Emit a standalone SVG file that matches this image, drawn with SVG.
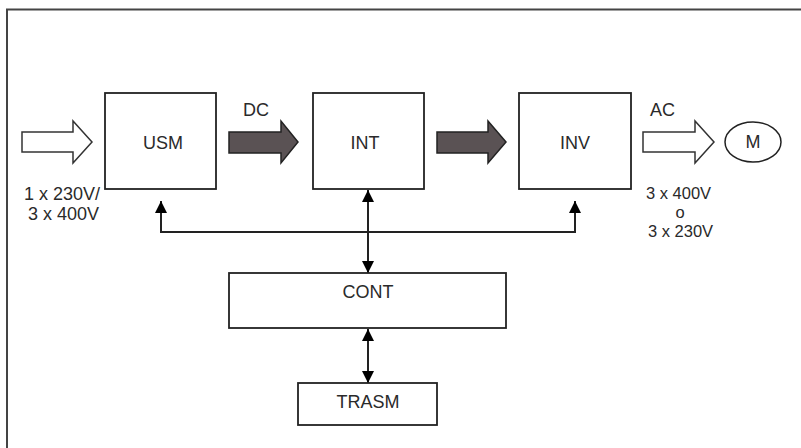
<svg xmlns="http://www.w3.org/2000/svg" width="801" height="448" viewBox="0 0 801 448">
<defs>
<marker id="ah" viewBox="0 0 10 10" refX="10" refY="5" markerWidth="12" markerHeight="12" markerUnits="userSpaceOnUse" orient="auto-start-reverse">
<path d="M0,0 L10,5 L0,10 Z" fill="#000"/>
</marker>
</defs>
<style>
.box{fill:#fff;stroke:#222;stroke-width:1.8}
.t{font-family:"Liberation Sans",Arial,sans-serif;font-size:18px;fill:#2a2a2a}
.s{font-size:16.5px}
.c{text-anchor:middle}
.open{fill:#fff;stroke:#333;stroke-width:1.5}
.dark{fill:#5a5254;stroke:#222;stroke-width:1.5}
.con{fill:none;stroke:#222;stroke-width:2}
</style>
<rect x="7" y="9.5" width="820" height="460" fill="#fff" stroke="#444" stroke-width="2"/>
<g id="connectors">
<polyline class="con" points="161,202 161,232 575,232 575,202" />
<path class="con" d="M161,202 L161,201" marker-end="url(#ah)"/>
<path class="con" d="M575,202 L575,201" marker-end="url(#ah)"/>
<line class="con" x1="368" y1="190" x2="368" y2="273" marker-start="url(#ah)" marker-end="url(#ah)"/>
<line class="con" x1="368" y1="329" x2="368" y2="383" marker-start="url(#ah)" marker-end="url(#ah)"/>
<path class="open" d="M22,132 L73,132 L73,121 L92,142 L73,163 L73,152 L22,152 Z"/>
<path class="dark" d="M229,132 L281,132 L281,121 L298,142 L281,163 L281,153 L229,153 Z"/>
<path class="dark" d="M437,132 L488,132 L488,121 L506,142 L488,163 L488,153 L437,153 Z"/>
<path class="open" d="M643,132 L695,132 L695,121 L714,142 L695,163 L695,152 L643,152 Z"/>
</g>
<g id="USM"><rect class="box" x="105" y="93" width="111" height="96"/><text class="t c" x="163" y="149">USM</text></g>
<g id="INT"><rect class="box" x="313" y="93" width="111" height="96"/><text class="t c" x="365" y="149">INT</text></g>
<g id="INV"><rect class="box" x="519" y="93" width="112" height="96"/><text class="t c" x="575" y="149">INV</text></g>
<g id="M"><ellipse cx="753" cy="142" rx="28" ry="20" fill="#fff" stroke="#222" stroke-width="1.5"/><text class="t c" x="753" y="148">M</text></g>
<g id="CONT"><rect class="box" x="229" y="273" width="277" height="55"/><text class="t c" x="368" y="298">CONT</text></g>
<g id="TRASM"><rect class="box" x="298" y="383" width="139" height="42"/><text class="t c" x="368" y="408">TRASM</text></g>
<g id="labels">
<text class="t" x="243" y="116">DC</text>
<text class="t" x="650" y="116">AC</text>
<text class="t" x="24" y="200">1 x 230V/</text>
<text class="t" x="28" y="220">3 x 400V</text>
<text class="t s" x="646" y="199">3 x 400V</text>
<text class="t s c" x="680" y="218">o</text>
<text class="t s" x="648" y="237">3 x 230V</text>
</g>
</svg>
